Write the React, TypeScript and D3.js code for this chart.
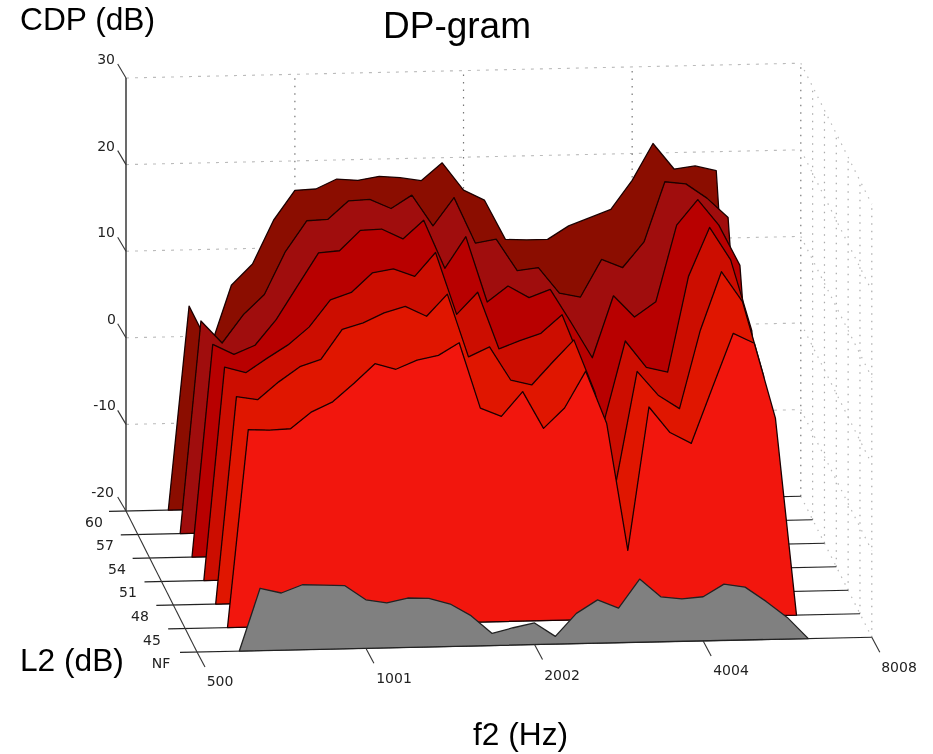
import React from "react";
import * as d3 from "d3";

const freqsHz = [648, 707, 771, 841, 917, 1001, 1091, 1189, 1297, 1416, 1542, 1682, 1834, 2002, 2181, 2378, 2594, 2828, 3084, 3364, 3668, 4004, 4362, 4757, 5187, 5657];
const startHz = 595;
const endHz = 6169;
const rowLabels = ["NF", "45", "48", "51", "54", "57", "60"];
const cdpTicks = [-20, -10, 0, 10, 20, 30];
const freqTicks = [500, 1001, 2002, 4004, 8008];
const rowColors = ["#808080", "#f21710", "#e01406", "#cc1006", "#b80406", "#a00d08", "#8b0f02"];

const rowNF = [-12.8, -13.4, -12.5, -12.6, -12.7, -14.4, -14.8, -14.3, -14.4, -15.1, -16.5, -18.6, -18.0, -17.5, -19.1, -16.5, -15.0, -16.0, -12.7, -14.8, -15.1, -14.9, -13.5, -13.9, -15.6, -17.5];
const row45 = [2.8, 2.7, 2.8, 4.7, 5.8, 7.9, 10.1, 9.4, 10.4, 10.9, 12.3, 4.7, 3.7, 6.5, 2.2, 4.5, 8.7, 2.6, -12.1, 4.4, 1.4, 0.1, 6.4, 12.7, 11.5, 2.8];
const row48 = [3.9, 3.5, 5.5, 7.2, 8.0, 11.4, 12.1, 13.2, 13.9, 12.7, 15.2, 7.9, 9.0, 5.1, 4.5, 7.1, 9.6, 3.5, -7.0, 5.8, 3.0, 1.4, 10.4, 17.1, 13.6, 5.0];
const row51 = [4.6, 3.9, 5.5, 7.0, 9.0, 12.1, 12.9, 15.1, 15.5, 14.6, 17.3, 10.1, 12.6, 6.0, 6.9, 7.7, 9.8, 3.8, -2.6, 6.6, 3.5, 2.9, 13.9, 19.5, 15.7, 7.5];
const row54 = [4.5, 3.3, 4.3, 7.2, 11.0, 14.8, 15.0, 17.3, 17.4, 16.2, 18.3, 12.7, 16.3, 8.7, 10.5, 9.1, 10.0, 6.1, 2.0, 9.1, 6.6, 8.3, 17.1, 20.0, 17.0, 12.3];
const row57 = [4.5, 1.9, 5.1, 7.4, 12.3, 15.8, 15.9, 18.0, 18.1, 17.0, 18.5, 14.9, 18.1, 12.8, 13.2, 9.5, 9.8, 6.8, 6.3, 10.6, 9.6, 12.5, 19.4, 19.1, 17.4, 15.1];
const row60 = [3.5, -1.4, 5.8, 8.2, 13.2, 16.6, 16.7, 17.8, 17.6, 18.0, 17.8, 17.4, 19.4, 16.2, 15.0, 10.4, 10.3, 10.3, 11.8, 12.7, 13.6, 16.9, 21.1, 18.1, 18.4, 17.8];
const rows = [rowNF, row45, row48, row51, row54, row57, row60];

const fx = d3.scaleLog().base(2).domain([500, 8008]).range([197, 871.8]);
const fy = d3.scaleLog().base(2).domain([500, 8008]).range([652, 637.2]);
const rx = d3.scaleLinear().domain([0, 6]).range([0, -71]);
const ry = d3.scaleLinear().domain([0, 6]).range([0, -141]);
const zy = d3.scaleLinear().domain([-20, 30]).range([0, -433]);

const px = (hz: number, row: number) => fx(hz) + rx(row);
const py = (hz: number, row: number, db: number) => fy(hz) + ry(row) + zy(db);
const seg = (a: [number, number, number], b: [number, number, number]) => ({
  x1: px(a[0], a[1]), y1: py(a[0], a[1], a[2]), x2: px(b[0], b[1]), y2: py(b[0], b[1], b[2]),
});

const surface = (row: number) => {
  const pts: [number, number][] = [
    [px(startHz, row), py(startHz, row, -20)],
    ...freqsHz.map((hz, i): [number, number] => [px(hz, row), py(hz, row, rows[row][i])]),
    [px(endHz, row), py(endHz, row, -20)],
  ];
  return d3.line().curve(d3.curveLinearClosed)(pts) as string;
};

const F = "Liberation Sans, Arial, sans-serif";
const TICK = "DejaVu Sans, sans-serif";
const TS = 14;
const rowLabelPos = [161, 152, 140, 128, 117, 105, 94];
const rowLabelY = [664, 641, 617, 593, 570, 546, 523];
const cdpLabelRight = [114, 116, 116, 115, 115, 115];
const freqLabelX = [220, 394, 562, 731, 899];
const freqLabelY = [682, 679, 676, 671, 668];
const fmax = 8008;
const rowIdx = d3.range(7);

export default function App() {
  return (
    <svg width={933} height={754} style={{ position: "absolute", left: 0, top: 0, display: "block", background: "#fff" }}>
      <defs>
        <filter id="soft" x="0" y="0" width="933" height="754" filterUnits="userSpaceOnUse">
          <feGaussianBlur stdDeviation="0.45" />
        </filter>
      </defs>
      <g filter="url(#soft)">
        {/* back wall grid */}
        {cdpTicks.slice(1).map((d) => (
          <line key={"bh" + d} {...seg([500, 6, d], [fmax, 6, d])} stroke="#bbb" strokeWidth={1.1} strokeDasharray="3 6" />
        ))}
        {freqTicks.slice(1, 5).map((f) => (
          <line key={"bv" + f} {...seg([f, 6, -20], [f, 6, 30])} stroke="#777" strokeWidth={1.2} strokeDasharray="1.5 6" />
        ))}
        {/* right wall grid */}
        {rowIdx.slice(0, 6).map((r) => (
          <line key={"rv" + r} {...seg([fmax, r, -20], [fmax, r, 30])} stroke="#aaa" strokeWidth={1.2} strokeDasharray="1.5 6" />
        ))}
        {cdpTicks.map((d) => (
          <line key={"rh" + d} {...seg([fmax, 6, d], [fmax, 0, d])} stroke="#bbb" strokeWidth={1.2} strokeDasharray="1.5 6" />
        ))}
        {/* floor row lines */}
        {rowIdx.map((r) => (
          <line key={"fl" + r} x1={px(500, r) - 17} y1={py(500, r, -20) + 0.4} x2={px(fmax, r)} y2={py(fmax, r, -20)} stroke="#222" strokeWidth={1.1} />
        ))}
        {/* surfaces */}
        {rowIdx.slice().reverse().map((r) => (
          <path key={"s" + r} d={surface(r)} fill={rowColors[r]} stroke={r === 0 ? "#222" : "#1c0000"} strokeWidth={1.3} strokeLinejoin="round" />
        ))}
        {/* axes */}
        <line {...seg([500, 6, -20], [500, 6, 30])} stroke="#444" strokeWidth={1.6} />
        <line {...seg([500, 6, -20], [500, 0, -20])} stroke="#333" strokeWidth={1.1} />
        {cdpTicks.map((d, i) => {
          const x = px(500, 6);
          const y = py(500, 6, d);
          return (
            <g key={"zt" + d}>
              <line x1={x} y1={y} x2={x - 8.3} y2={y - 14} stroke="#333" strokeWidth={1.1} />
              <text x={cdpLabelRight[i]} y={y - 18} fontFamily={TICK} fontSize={TS} fill="#222" textAnchor="end" dominantBaseline="middle">{d}</text>
            </g>
          );
        })}
        {freqTicks.map((f, i) => {
          const x = px(f, 0);
          const y = py(f, 0, -20);
          return (
            <g key={"xt" + f}>
              <line x1={x} y1={y} x2={x + 8} y2={y + 15} stroke="#333" strokeWidth={1.1} />
              <text x={freqLabelX[i]} y={freqLabelY[i]} fontFamily={TICK} fontSize={TS} fill="#222" textAnchor="middle" dominantBaseline="middle">{f}</text>
            </g>
          );
        })}
        {rowLabels.map((l, i) => (
          <text key={l} x={rowLabelPos[i]} y={rowLabelY[i]} fontFamily={TICK} fontSize={TS} fill="#222" textAnchor="middle" dominantBaseline="middle">{l}</text>
        ))}
        {/* titles */}
        <text x={20} y={30} fontFamily={F} fontSize={31.7} fill="#000">CDP (dB)</text>
        <text x={383} y={38} fontFamily={F} fontSize={37} fill="#000">DP-gram</text>
        <text x={20} y={671} fontFamily={F} fontSize={31.7} fill="#000">L2 (dB)</text>
        <text x={473} y={745} fontFamily={F} fontSize={31.7} fill="#000">f2 (Hz)</text>
      </g>
    </svg>
  );
}
